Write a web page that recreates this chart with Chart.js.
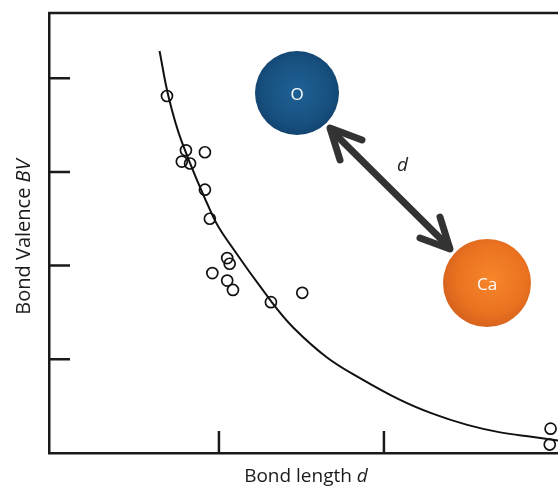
<!DOCTYPE html>
<html>
<head>
<meta charset="utf-8">
<script src="https://cdn.jsdelivr.net/npm/chart.js@4"></script>
<style>
html, body { margin: 0; padding: 0; background: #fff; }
#wrap { position: relative; width: 558px; height: 486px; overflow: hidden; font-family: "Open Sans", sans-serif; }
#chart { position: absolute; left: 0; top: 0; }
.lbl { position: absolute; white-space: nowrap; color: #1a1a1a; line-height: 22px; }
#xTitle { left: 306px; top: 464px; font-size: 19px; transform: translateX(-50%); }
#yTitle { left: 23px; top: 237px; font-size: 20px; transform: translate(-50%, -50%) rotate(-90deg); }
.atom { position: absolute; border-radius: 50%; color: #fff; display: flex; align-items: center; justify-content: center; font-size: 17px; }
#atomO { left: 255px; top: 51px; width: 84px; height: 84px;
  background: radial-gradient(circle at 50% 48%, #1f6196 0%, #17507f 55%, #0b3159 100%); }
#atomCa { left: 443px; top: 239px; width: 88px; height: 88px;
  background: radial-gradient(circle at 55% 45%, #f7862b 0%, #ea7220 50%, #bf511a 100%); }
#dLabel { position: absolute; left: 397px; top: 151px; font-size: 19px; font-style: italic; color: #222; }
#arrow { position: absolute; left: 0; top: 0; pointer-events: none; }
</style>
</head>
<body>
<div id="wrap">
  <canvas id="chart" width="558" height="486"></canvas>
  <svg id="arrow" width="558" height="486">
    <g stroke="#333" stroke-width="7" stroke-linecap="round" stroke-linejoin="round" fill="none">
      <line x1="331" y1="130" x2="449" y2="247"></line>
      <polyline points="362,140 330,128 340,160"></polyline>
      <polyline points="420,238 450,249 440,217"></polyline>
    </g>
  </svg>
  <div class="atom" id="atomO">O</div>
  <div class="atom" id="atomCa">Ca</div>
  <div id="dLabel">d</div>
  <div class="lbl" id="xTitle">Bond length <i>d</i></div>
  <div class="lbl" id="yTitle">Bond Valence <i>BV</i></div>
</div>
<script>
// measured bonds (length, valence)
var bondLength = [2.337, 2.360, 2.355, 2.365, 2.383, 2.383, 2.389, 2.410, 2.413, 2.392, 2.410, 2.417, 2.463, 2.501, 2.802, 2.801];
var bondValence = [0.381, 0.323, 0.311, 0.309, 0.321, 0.281, 0.250, 0.208, 0.202, 0.192, 0.184, 0.174, 0.161, 0.171, 0.026, 0.009];

// fitted curve
var curveLength = [2.328, 2.339, 2.355, 2.393, 2.410, 2.464, 2.490, 2.531, 2.571, 2.619, 2.659, 2.701, 2.741, 2.781, 2.811];
var curveValence = [0.429, 0.380, 0.332, 0.252, 0.227, 0.161, 0.134, 0.102, 0.080, 0.057, 0.042, 0.030, 0.022, 0.017, 0.0133];

// tick marks (no labels)
var xTicks = [2.4, 2.6];
var yTicks = [0.1, 0.2, 0.3, 0.4];

var pointData = bondLength.map(function(d, i) { return { x: d, y: bondValence[i] }; });
var curveData = curveLength.map(function(d, i) { return { x: d, y: curveValence[i] }; });

// ticks inside the frame + top frame line
var tickMarks = {
  id: 'tickMarks',
  afterDraw: function(chart) {
    var ctx = chart.ctx;
    var a = chart.chartArea;
    var sx = chart.scales.x, sy = chart.scales.y;
    ctx.save();
    ctx.strokeStyle = '#1a1a1a';
    ctx.lineWidth = 2.5;
    ctx.beginPath();
    ctx.moveTo(a.left - 1, a.top);
    ctx.lineTo(a.right, a.top);
    yTicks.forEach(function(v) {
      var y = sy.getPixelForValue(v);
      ctx.moveTo(a.left, y);
      ctx.lineTo(a.left + 21, y);
    });
    xTicks.forEach(function(v) {
      var x = sx.getPixelForValue(v);
      ctx.moveTo(x, a.bottom);
      ctx.lineTo(x, a.bottom - 22);
    });
    ctx.stroke();
    ctx.restore();
  }
};

var chart = new Chart(document.getElementById('chart'), {
  type: 'scatter',
  data: {
    datasets: [
      {
        label: 'fit',
        data: curveData,
        showLine: true,
        borderColor: '#111',
        borderWidth: 2,
        pointRadius: 0,
        tension: 0.4,
        clip: false
      },
      {
        label: 'bonds',
        data: pointData,
        pointStyle: 'circle',
        pointRadius: 5.5,
        borderWidth: 1.7,
        borderColor: '#111',
        backgroundColor: 'rgba(0,0,0,0)',
        clip: false
      }
    ]
  },
  options: {
    responsive: false,
    animation: false,
    events: [],
    layout: { autoPadding: false, padding: { left: 49, top: 13, right: 0, bottom: 33 } },
    plugins: { legend: { display: false }, tooltip: { enabled: false } },
    scales: {
      x: {
        type: 'linear',
        min: 2.194,
        max: 2.811,
        ticks: { display: false },
        grid: { display: false, drawTicks: false },
        border: { display: true, color: '#1a1a1a', width: 2.5 }
      },
      y: {
        min: 0,
        max: 0.4696,
        ticks: { display: false },
        grid: { display: false, drawTicks: false },
        border: { display: true, color: '#1a1a1a', width: 2.5 }
      }
    }
  },
  plugins: [tickMarks]
});
</script>
</body>
</html>
